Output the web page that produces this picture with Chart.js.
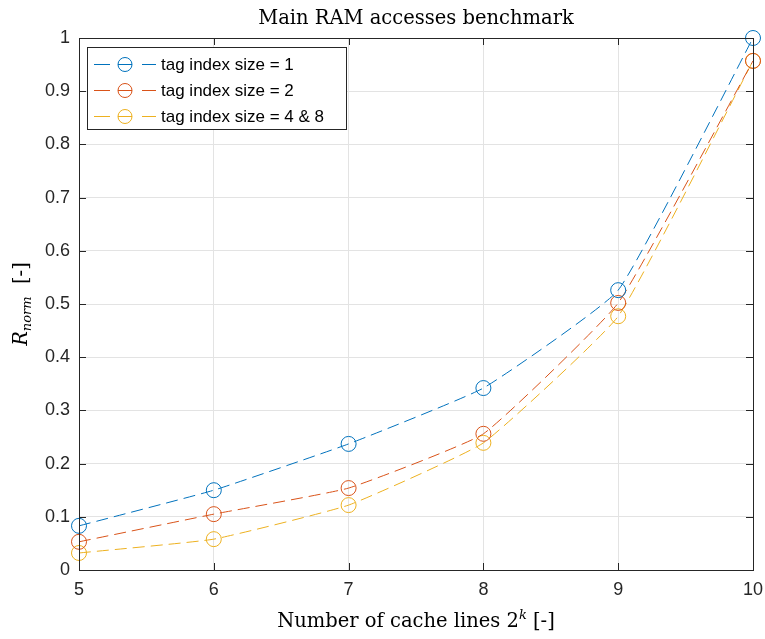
<!DOCTYPE html>
<html>
<head>
<meta charset="utf-8">
<script src="https://cdn.jsdelivr.net/npm/chart.js@4/dist/chart.umd.min.js"></script>
<style>
  body { margin: 0; background: #fff; }
  canvas { display: block; }
</style>
</head>
<body>
<canvas id="chartCanvas" width="765" height="639"></canvas>
<script>
// data
const cacheLinesK = [5, 6, 7, 8, 9, 10];
const tagSize1 = [0.083, 0.150, 0.237, 0.342, 0.526, 1.000];
const tagSize2 = [0.053, 0.105, 0.154, 0.256, 0.502, 0.957];
const tagSize48 = [0.032, 0.058, 0.122, 0.239, 0.477, 0.957];
const seriesNames = ["tag index size = 1", "tag index size = 2", "tag index size = 4 & 8"];
const seriesColors = ["#0072BD", "#D95319", "#EDB120"];
const yTicks = [0, 0.1, 0.2, 0.3, 0.4, 0.5, 0.6, 0.7, 0.8, 0.9, 1];
const chartTitle = "Main RAM accesses benchmark";

const axisColor = "#262626";
const serif = "'DejaVu Serif', 'Liberation Serif', serif";
const sans = "'Liberation Sans', Arial, sans-serif";

function toPoints(values) {
    return cacheLinesK.map((k, i) => ({ x: k, y: values[i] }));
}

function makeDataset(name, values, color) {
    return {
        label: name,
        data: toPoints(values),
        borderColor: color,
        borderWidth: 1,
        borderDash: [12, 6],
        tension: 0.12,
        pointStyle: "circle",
        pointRadius: 7.5,
        pointBorderWidth: 1,
        pointBorderColor: color,
        pointBackgroundColor: "rgba(0,0,0,0)",
        fill: false,
        clip: false
    };
}

// draws a row of text pieces (for sub/superscripts) centred on 0,0
function drawRuns(ctx, runs) {
    let total = 0;
    runs.forEach(r => { ctx.font = r.font; total += ctx.measureText(r.text).width; });
    let x = -total / 2;
    runs.forEach(r => {
        ctx.font = r.font;
        ctx.fillText(r.text, x, r.dy || 0);
        x += ctx.measureText(r.text).width;
    });
}

const matlabDecor = {
    id: "matlabDecor",
    afterDraw(chart) {
        const { ctx, chartArea: a, scales } = chart;
        const xs = scales.x, ys = scales.y;
        ctx.save();

        // box + inward ticks
        ctx.strokeStyle = axisColor;
        ctx.lineWidth = 1;
        ctx.strokeRect(Math.round(a.left) + 0.5, Math.round(a.top) + 0.5,
            Math.round(a.right - a.left), Math.round(a.bottom - a.top));
        const tl = 7;
        ctx.beginPath();
        yTicks.forEach(v => {
            const py = Math.round(ys.getPixelForValue(v)) + 0.5;
            ctx.moveTo(a.left, py); ctx.lineTo(a.left + tl, py);
            ctx.moveTo(a.right, py); ctx.lineTo(a.right - tl, py);
        });
        cacheLinesK.forEach(k => {
            const px = Math.round(xs.getPixelForValue(k)) + 0.5;
            ctx.moveTo(px, a.bottom); ctx.lineTo(px, a.bottom - tl);
            ctx.moveTo(px, a.top); ctx.lineTo(px, a.top + tl);
        });
        ctx.stroke();

        // title
        ctx.fillStyle = "#000";
        ctx.textBaseline = "alphabetic";
        ctx.textAlign = "left";
        const cx = (a.left + a.right) / 2;
        ctx.save();
        ctx.translate(cx, 24);
        drawRuns(ctx, [{ text: chartTitle, font: "19.5px " + serif }]);
        ctx.restore();

        // x axis label
        ctx.save();
        ctx.translate(cx, 627);
        drawRuns(ctx, [
            { text: "Number of cache lines 2", font: "19.5px " + serif },
            { text: "k", font: "italic 13px " + serif, dy: -8 },
            { text: " [-]", font: "19.5px " + serif }
        ]);
        ctx.restore();

        // y axis label
        ctx.save();
        ctx.translate(27, (a.top + a.bottom) / 2);
        ctx.rotate(-Math.PI / 2);
        drawRuns(ctx, [
            { text: "R", font: "italic 19.5px " + serif },
            { text: "norm", font: "italic 13px " + serif, dy: 4 },
            { text: "  [-]", font: "19.5px " + serif }
        ]);
        ctx.restore();

        // legend
        const lx = 87, ly = 47, lw = 259, lh = 82;
        ctx.fillStyle = "#fff";
        ctx.fillRect(lx, ly, lw, lh);
        ctx.strokeStyle = axisColor;
        ctx.strokeRect(lx + 0.5, ly + 0.5, lw, lh);
        ctx.font = "17px " + sans;
        ctx.textBaseline = "middle";
        chart.data.datasets.forEach((ds, i) => {
            const ry = ly + 17 + i * 26;
            ctx.strokeStyle = ds.borderColor;
            ctx.lineWidth = 1;
            ctx.beginPath();
            ctx.moveTo(94, ry + 0.5); ctx.lineTo(110, ry + 0.5);
            ctx.moveTo(142, ry + 0.5); ctx.lineTo(156, ry + 0.5);
            ctx.moveTo(118, ry + 0.5); ctx.lineTo(132, ry + 0.5);
            ctx.stroke();
            ctx.beginPath();
            ctx.arc(125, ry + 0.5, 7, 0, Math.PI * 2);
            ctx.stroke();
            ctx.fillStyle = "#000";
            ctx.fillText(ds.label, 161, ry + 1);
        });
        ctx.restore();
    }
};

const ctx = document.getElementById("chartCanvas").getContext("2d");
new Chart(ctx, {
    type: "line",
    data: {
        datasets: [
            makeDataset(seriesNames[0], tagSize1, seriesColors[0]),
            makeDataset(seriesNames[1], tagSize2, seriesColors[1]),
            makeDataset(seriesNames[2], tagSize48, seriesColors[2])
        ]
    },
    options: {
        responsive: false,
        animation: false,
        layout: { padding: { left: 0, right: 12, top: 38, bottom: 0 } },
        plugins: {
            legend: { display: false },
            title: { display: false },
            tooltip: { enabled: false }
        },
        scales: {
            x: {
                type: "linear",
                min: 5,
                max: 10,
                afterFit: scale => {
                    scale.height = 69;
                    scale.paddingLeft = 0;
                    scale.paddingRight = 0;
                },
                afterBuildTicks: scale => { scale.ticks = cacheLinesK.map(v => ({ value: v })); },
                ticks: { color: axisColor, font: { family: sans, size: 18 }, padding: 9 },
                grid: { color: "#e3e3e3", drawTicks: false },
                border: { display: false }
            },
            y: {
                min: 0,
                max: 1,
                afterFit: scale => {
                    scale.width = 79;
                    scale.paddingTop = 0;
                    scale.paddingBottom = 0;
                },
                afterBuildTicks: scale => { scale.ticks = yTicks.map(v => ({ value: v })); },
                ticks: {
                    color: axisColor,
                    font: { family: sans, size: 18 },
                    padding: 9,
                    callback: v => String(Number(v.toFixed(1)))
                },
                grid: { color: "#e3e3e3", drawTicks: false },
                border: { display: false }
            }
        }
    },
    plugins: [matlabDecor]
});
</script>
</body>
</html>
